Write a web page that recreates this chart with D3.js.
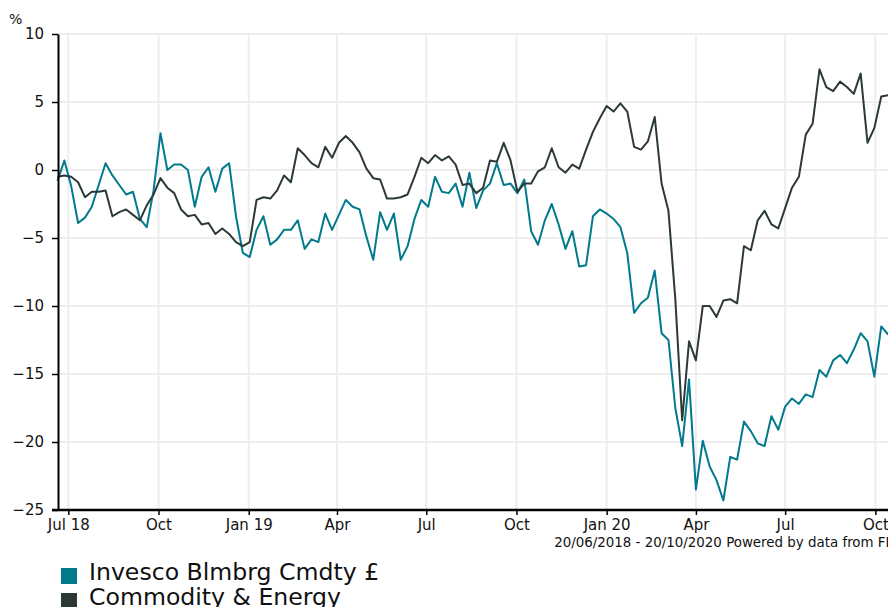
<!DOCTYPE html>
<html>
<head>
<meta charset="utf-8">
<script src="https://cdn.jsdelivr.net/npm/d3@7"></script>
<style>
body { margin: 0; background: #fff; }
text { font-family: "DejaVu Sans", Verdana, sans-serif; fill: #111; }
</style>
</head>
<body>
<script>
// weekly readings, first point 20/06/2018
const startDate = '2018-06-20', endDate = '2020-10-20'

const invesco = [
  -0.8, 0.7, -1.2, -3.9, -3.5, -2.7, -1.1, 0.5, -0.4, -1.1,
  -1.8, -1.6, -3.6, -4.2, -1.5, 2.7, 0.0, 0.4, 0.4, 0.0,
  -2.7, -0.5, 0.2, -1.6, 0.1, 0.5, -3.4, -6.1, -6.4, -4.4,
  -3.4, -5.5, -5.1, -4.4, -4.4, -3.7, -5.8, -5.1, -5.3, -3.2,
  -4.4, -3.3, -2.2, -2.7, -2.9, -4.9, -6.6, -3.1, -4.4, -3.2,
  -6.6, -5.6, -3.6, -2.2, -2.7, -0.5, -1.6, -1.7, -1.0, -2.7,
  -0.2, -2.8, -1.5, -1.0, 0.5, -1.1, -1.0, -1.7, -0.7, -4.5,
  -5.5, -3.7, -2.5, -4.0, -5.8, -4.5, -7.1, -7.0, -3.4, -2.9,
  -3.2, -3.6, -4.2, -6.1, -10.5, -9.8, -9.4, -7.4, -12.0, -12.5,
  -17.5, -20.3, -15.4, -23.5, -19.9, -21.8, -22.8, -24.3, -21.1, -21.3,
  -18.5, -19.2, -20.1, -20.3, -18.1, -19.1, -17.4, -16.8, -17.2, -16.5,
  -16.7, -14.7, -15.2, -14.0, -13.6, -14.2, -13.2, -12.0, -12.6, -15.2,
  -11.5, -12.1
]

const commodity = [
  -0.5, -0.4, -0.5, -0.9, -2.0, -1.6, -1.6, -1.5, -3.4, -3.1,
  -2.9, -3.3, -3.7, -2.6, -1.8, -0.6, -1.3, -1.7, -2.9, -3.4,
  -3.3, -4.0, -3.9, -4.7, -4.3, -4.7, -5.3, -5.6, -5.3, -2.2,
  -2.0, -2.1, -1.5, -0.4, -0.9, 1.6, 1.1, 0.5, 0.2, 1.7,
  0.9, 2.0, 2.5, 2.0, 1.3, 0.1, -0.6, -0.7, -2.1, -2.1,
  -2.0, -1.8, -0.5, 0.9, 0.5, 1.1, 0.7, 1.0, 0.4, -1.1,
  -1.0, -1.7, -1.3, 0.7, 0.6, 2.0, 0.7, -1.6, -1.0, -1.0,
  -0.1, 0.2, 1.6, 0.2, -0.2, 0.4, 0.1, 1.5, 2.8, 3.8,
  4.7, 4.3, 4.9, 4.3, 1.7, 1.5, 2.1, 3.9, -1.0, -3.0,
  -9.5, -18.4, -12.6, -14.0, -10.0, -10.0, -10.8, -9.6, -9.5, -9.8,
  -5.6, -5.9, -3.7, -3.0, -4.0, -4.3, -2.8, -1.3, -0.5, 2.6,
  3.4, 7.4, 6.1, 5.8, 6.5, 6.1, 5.6, 7.1, 2.0, 3.1,
  5.4, 5.5
]

const seriesNames = ['Invesco Blmbrg Cmdty £', 'Commodity & Energy']
const seriesColors = ['#007a8c', '#2c3a37']

const yTicks = [10, 5, 0, -5, -10, -15, -20, -25]
const xTickDates = ['2018-07-01', '2018-10-01', '2019-01-01', '2019-04-01', '2019-07-01',
  '2019-10-01', '2020-01-01', '2020-04-01', '2020-07-01', '2020-10-01']
const xTickLabels = ['Jul 18', 'Oct', 'Jan 19', 'Apr', 'Jul', 'Oct', 'Jan 20', 'Apr', 'Jul', 'Oct']

const footer = '20/06/2018 - 20/10/2020 Powered by data from FE'

const W = 888, H = 607
const parse = d3.timeParse('%Y-%m-%d')
const t0 = parse(startDate)

const svg = d3.select('body').append('svg')
  .attr('width', W).attr('height', H)

const x = d3.scaleTime()
  .domain([t0, parse(endDate)])
  .range([57.5, 894])
const y = d3.scaleLinear()
  .domain([-25, 10])
  .range([510, 34])

// grid
const grid = svg.append('g').attr('stroke', '#eeeeee').attr('stroke-width', 2)
grid.selectAll('.hg').data(yTicks.filter(v => v > -25)).enter().append('line')
  .attr('x1', 58).attr('x2', W)
  .attr('y1', d => y(d)).attr('y2', d => y(d))
grid.selectAll('.vg').data(xTickDates).enter().append('line')
  .attr('x1', d => x(parse(d))).attr('x2', d => x(parse(d)))
  .attr('y1', 34).attr('y2', 510)

// lines
const line = d3.line()
  .x((d, i) => x(d3.timeDay.offset(t0, i * 7)))
  .y(d => y(d))

;[invesco, commodity].forEach((s, k) => {
  svg.append('path')
    .datum(s)
    .attr('fill', 'none')
    .attr('stroke', seriesColors[k])
    .attr('stroke-width', 2)
    .attr('stroke-linejoin', 'round')
    .attr('d', line)
})

// axes
const yAxis = svg.append('g')
  .attr('transform', 'translate(58,0)')
  .call(d3.axisLeft(y).tickValues(yTicks).tickSize(6).tickSizeOuter(0).tickPadding(8))
yAxis.select('.domain').attr('stroke', '#000').attr('stroke-width', 2)
yAxis.selectAll('.tick line').attr('stroke', '#000').attr('stroke-width', 1.5)
yAxis.selectAll('text').attr('font-size', 15).attr('font-family', null).attr('fill', '#111')

const xAxis = svg.append('g')
  .attr('transform', 'translate(0,510)')
  .call(d3.axisBottom(x)
    .tickValues(xTickDates.map(parse))
    .tickFormat((d, i) => xTickLabels[i])
    .tickSize(5).tickSizeOuter(0).tickPadding(4))
xAxis.select('.domain').attr('stroke', '#000').attr('stroke-width', 2.5)
  .attr('d', 'M52,0H' + W)
xAxis.selectAll('.tick line').attr('stroke', '#000').attr('stroke-width', 1.5)
xAxis.selectAll('text').attr('font-size', 15).attr('font-family', null).attr('fill', '#111')

svg.append('text')
  .attr('x', 9).attr('y', 24)
  .attr('font-size', 14)
  .text('%')

svg.append('text')
  .attr('x', 894).attr('y', 547)
  .attr('text-anchor', 'end')
  .attr('font-size', 13.4)
  .text(footer)

// legend
const lg = svg.append('g')
seriesNames.forEach((n, k) => {
  const by = 580 + k * 25
  lg.append('rect')
    .attr('x', 61).attr('y', by - 12)
    .attr('width', 16).attr('height', 16)
    .attr('fill', seriesColors[k])
  lg.append('text')
    .attr('x', 89).attr('y', by)
    .attr('font-size', 23.6)
    .text(n)
})
</script>
</body>
</html>
